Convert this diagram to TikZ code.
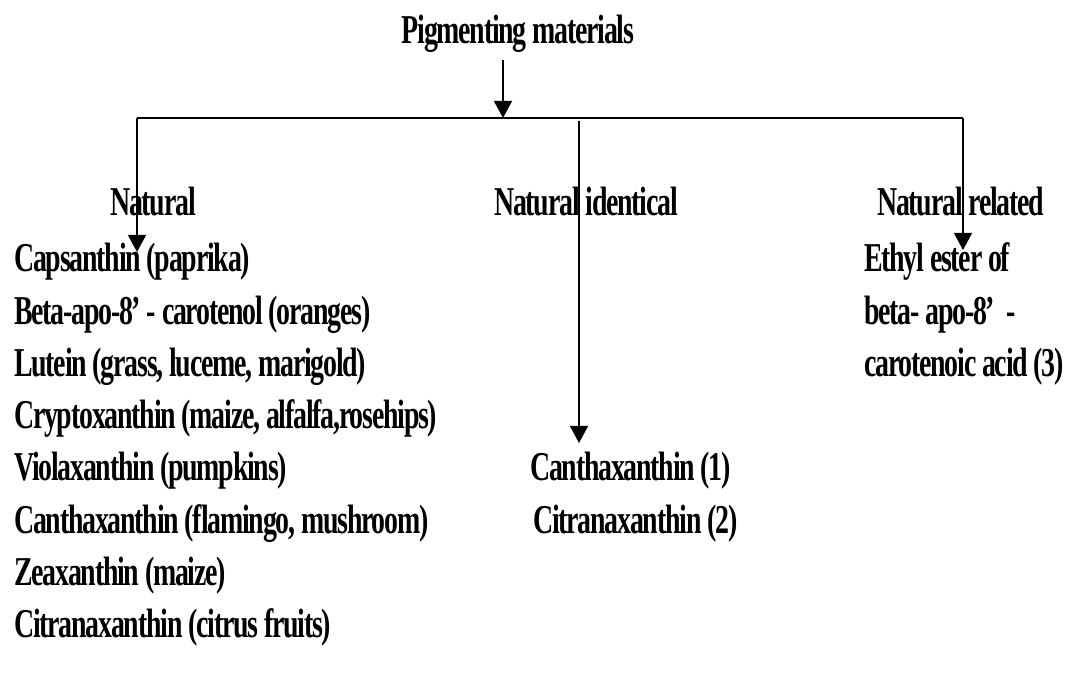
\documentclass[tikz,border=0pt]{standalone}
\usepackage{fontspec}
\setmainfont{Liberation Serif}[FakeStretch=0.68,LetterSpace=-3]
\usetikzlibrary{arrows.meta}
\tikzset{
  txt/.style={anchor=base west, inner sep=0pt, font=\fontsize{41}{48}\selectfont\bfseries},
  ctxt/.style={txt, anchor=base},
  conn/.style={line width=1.3pt},
  arr/.style={conn, -{Triangle[width=18pt,length=17pt]}}
}
\begin{document}
\begin{tikzpicture}[x=1pt,y=-1pt]
\useasboundingbox (0,0) rectangle (1074,684);
% title
\node[ctxt] (title) at (518,44) {Pigmenting materials};
% junctions
\coordinate (ts) at (503,60);
\coordinate (j) at (503,118);
\coordinate (jl) at (137,118);
\coordinate (jr) at (963,118);
\coordinate (jm) at (579,121);
\coordinate (el) at (137,252);
\coordinate (em) at (579,443);
\coordinate (er) at (963,250);
\draw[arr] (ts) -- (j);
\draw[conn] (jl) -- (jr);
\draw[arr] (jl) -- (el);
\draw[arr] (jr) -- (er);
\draw[arr] (jm) -- (em);
% headings
\node[txt] (nat) at (110,216) {Natural};
\node[txt] (natid) at (494,216) {Natural identical};
\node[txt] (natrel) at (877,216) {Natural related};
% left list
\node[txt] (l1) at (14,272) {Capsanthin (paprika)};
\node[txt] (l2) at (14,324.2) {Beta-apo-8' - carotenol (oranges)};
\node[txt] (l3) at (14,376.4) {Lutein (grass, luceme, marigold)};
\node[txt] (l4) at (14,428.6) {Cryptoxanthin (maize, alfalfa,rosehips)};
\node[txt] (l5) at (14,480.8) {Violaxanthin (pumpkins)};
\node[txt] (l6) at (14,533) {Canthaxanthin (flamingo, mushroom)};
\node[txt] (l7) at (14,585.2) {Zeaxanthin (maize)};
\node[txt] (l8) at (14,637.4) {Citranaxanthin (citrus fruits)};
% middle list
\node[txt] (m1) at (530,480.8) {Canthaxanthin (1)};
\node[txt] (m2) at (533,533) {Citranaxanthin (2)};
% right list
\node[txt] (r1) at (864,272) {Ethyl ester of};
\node[txt] (r2) at (864,324.2) {beta- apo-8' \ -};
\node[txt] (r3) at (864,376.4) {carotenoic acid (3)};
\end{tikzpicture}
\end{document}
